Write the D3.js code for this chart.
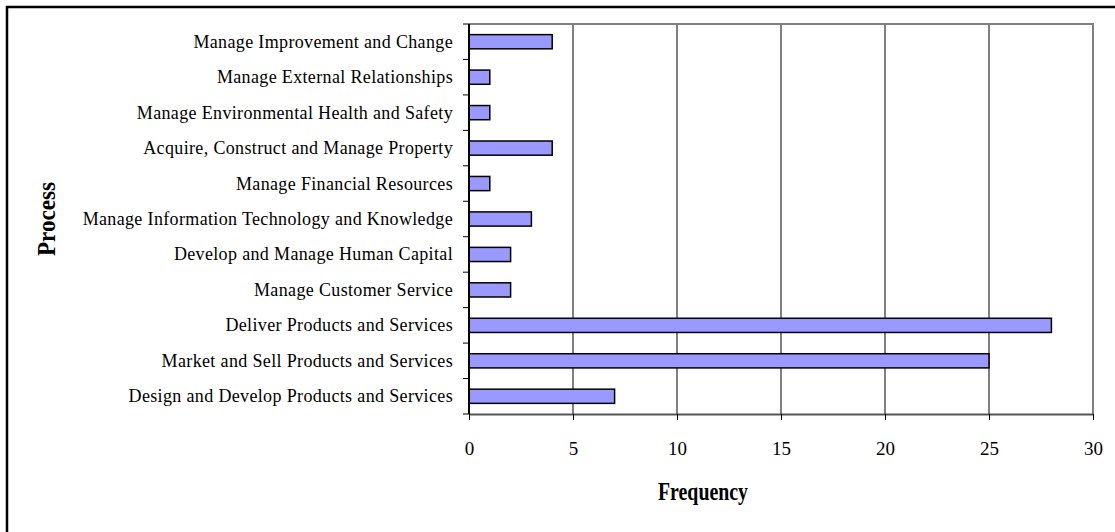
<!DOCTYPE html>
<html>
<head>
<meta charset="utf-8">
<script src="https://cdn.jsdelivr.net/npm/d3@7"></script>
<style>
  html, body { margin: 0; padding: 0; background: #fff; }
  svg { display: block; }
  text { font-family: "Liberation Serif", "Times New Roman", serif; fill: #000; }
</style>
</head>
<body>
<svg id="chart" width="1115" height="532"></svg>
<script>
// Process categories, listed top to bottom
const processes = [
  "Manage Improvement and Change",
  "Manage External Relationships",
  "Manage Environmental Health and Safety",
  "Acquire, Construct and Manage Property",
  "Manage Financial Resources",
  "Manage Information Technology and Knowledge",
  "Develop and Manage Human Capital",
  "Manage Customer Service",
  "Deliver Products and Services",
  "Market and Sell Products and Services",
  "Design and Develop Products and Services"
];
// Frequency of each process
const frequency = [4, 1, 1, 4, 1, 3, 2, 2, 28, 25, 7];
// Frequency axis ticks
const xTicks = [0, 5, 10, 15, 20, 25, 30];

const svg = d3.select("#chart");
const serif = "'Liberation Serif', 'Times New Roman', serif";

// Outer frame (top and left edges)
svg.append("path")
  .attr("d", "M7,532 L7,7 L1115,7")
  .attr("fill", "none")
  .attr("stroke", "#000")
  .attr("stroke-width", 2.5);

const plot = { left: 469, right: 1093, top: 24, bottom: 414 };

const x = d3.scaleLinear().domain([0, 30]).range([plot.left, plot.right]);
const y = d3.scaleBand().domain(processes).range([plot.top, plot.bottom]).paddingInner(0.6).paddingOuter(0.3);
const yBand = d3.scaleBand().domain(processes).range([plot.top, plot.bottom]);

// Vertical gridlines
svg.append("g").selectAll("line")
  .data(xTicks.filter(d => d > 0 && d < 30))
  .join("line")
  .attr("x1", d => x(d)).attr("x2", d => x(d))
  .attr("y1", plot.top).attr("y2", plot.bottom)
  .attr("stroke", "#000").attr("stroke-width", 1);

// Plot area border (top and right)
svg.append("path")
  .attr("d", `M${plot.left},${plot.top} L${plot.right},${plot.top} L${plot.right},${plot.bottom}`)
  .attr("fill", "none")
  .attr("stroke", "#808080")
  .attr("stroke-width", 2);

// Bars
svg.append("g").selectAll("rect")
  .data(processes)
  .join("rect")
  .attr("x", x(0))
  .attr("y", d => y(d))
  .attr("width", (d, i) => x(frequency[i]) - x(0))
  .attr("height", y.bandwidth())
  .attr("fill", "#9999ff")
  .attr("stroke", "#000")
  .attr("stroke-width", 1.5);

// Bottom axis
const xAxis = svg.append("g")
  .attr("transform", `translate(0,${plot.bottom})`)
  .call(d3.axisBottom(x).tickValues(xTicks).tickSize(6).tickSizeOuter(0).tickPadding(0));
xAxis.select(".domain").attr("stroke", "#555").attr("stroke-width", 2);
xAxis.selectAll(".tick line").attr("stroke", "#000").attr("stroke-width", 1);
xAxis.selectAll(".tick text")
  .attr("y", 41)
  .attr("dy", null)
  .style("font-family", serif)
  .style("font-size", "19px");

// Left axis: ticks sit between categories
const boundaries = d3.range(processes.length + 1).map(i => plot.top + i * yBand.step());
svg.append("g").selectAll("line")
  .data(boundaries)
  .join("line")
  .attr("x1", plot.left - 6).attr("x2", plot.left)
  .attr("y1", d => d).attr("y2", d => d)
  .attr("stroke", "#000").attr("stroke-width", 1);
svg.append("line")
  .attr("x1", plot.left).attr("x2", plot.left)
  .attr("y1", plot.top).attr("y2", plot.bottom)
  .attr("stroke", "#000").attr("stroke-width", 2);

// Category labels
svg.append("g").selectAll("text")
  .data(processes)
  .join("text")
  .attr("x", plot.left - 16)
  .attr("y", d => yBand(d) + yBand.bandwidth() / 2 + 6)
  .attr("text-anchor", "end")
  .style("font-size", "18px")
  .style("letter-spacing", "0.35px")
  .text(d => d);

// Axis titles
svg.append("text")
  .attr("x", 658)
  .attr("y", 500)
  .attr("textLength", 90)
  .attr("lengthAdjust", "spacingAndGlyphs")
  .style("font-size", "25px")
  .style("font-weight", "bold")
  .text("Frequency");

svg.append("text")
  .attr("transform", "translate(55,256) rotate(-90)")
  .attr("textLength", 74)
  .attr("lengthAdjust", "spacingAndGlyphs")
  .style("font-size", "25px")
  .style("font-weight", "bold")
  .text("Process");
</script>
</body>
</html>
